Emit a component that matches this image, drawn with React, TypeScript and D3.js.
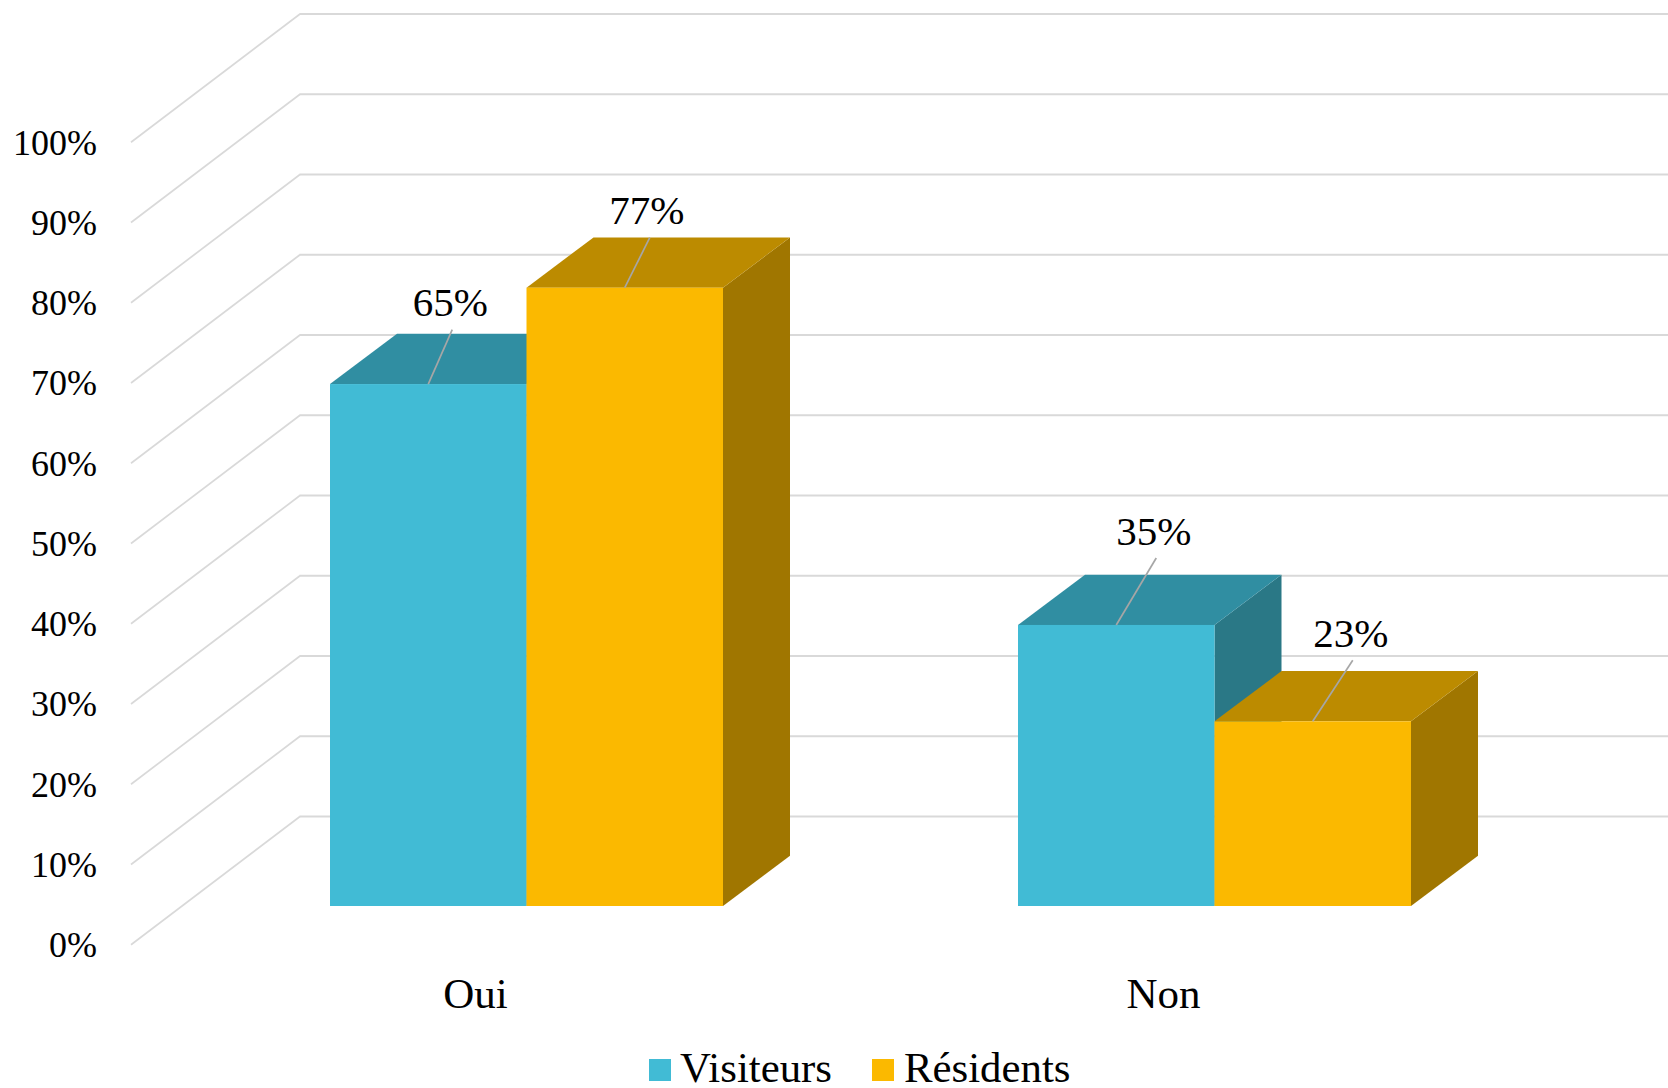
import React from "react";
import * as d3 from "d3";

const categories = ["Oui", "Non"];
const seriesNames = ["Visiteurs", "Résidents"];
const visiteurs = [65, 35];
const residents = [77, 23];
const yTicks = [0, 10, 20, 30, 40, 50, 60, 70, 80, 90, 100];

const WIDTH = 1668;
const HEIGHT = 1088;
const FONT = '"Liberation Serif", "Times New Roman", serif';

const palette = [
  { front: "#41BBD5", top: "#308EA2", side: "#2A7886" },
  { front: "#FBB900", top: "#BC8B00", side: "#A07600" },
];

// layout of the pseudo-3D plot
const depth = { x: 67, y: 50.3 };
const floorDepth = { x: 169, y: 128.2 };
const gridBack = d3.scaleLinear().domain([0, 100]).range([816.5, 14]);
const barFront = d3.scaleLinear().domain([0, 100]).range([906, 103]);
const x0 = d3.scaleBand().domain(categories).range([182.5, 1558.5]);
const x1 = d3.scaleBand().domain(seriesNames).range([147.5, 540.5]);

// data-label placement relative to each bar's top-front centre: [labelDx, baselineY-from-top, leaderDx, leaderDy]
const labelPlacement = [
  [
    [22, -68.5, 24, -54.5],
    [22, -63.5, 25, -50],
  ],
  [
    [37.5, -80, 40, -67],
    [38, -74, 40, -61],
  ],
];

const legendX = [
  { swatch: 649, text: 680 },
  { swatch: 872, text: 904 },
];

export default function App() {
  const values = [visiteurs, residents];
  const line = d3.line();
  const poly = (pts: [number, number][]) => line(pts) + "Z";
  return (
    <svg
      width={WIDTH}
      height={HEIGHT}
      viewBox={`0 0 ${WIDTH} ${HEIGHT}`}
      style={{ position: "absolute", left: 0, top: 0, display: "block", background: "#fff" }}
      fontFamily={FONT}
      fill="#000"
    >
      <g fill="none" stroke="#D9D9D9">
        {yTicks.map((t) => {
          const y = gridBack(t);
          return (
            <g key={t}>
              <path
                strokeWidth={1.7}
                d={line([
                  [300 - floorDepth.x, y + floorDepth.y],
                  [300, y],
                ]) as string}
              />
              <path
                strokeWidth={2.2}
                d={line([
                  [299.5, y],
                  [WIDTH, y],
                ]) as string}
              />
            </g>
          );
        })}
      </g>
      <g fontSize={36} textAnchor="end">
        {yTicks.map((t) => (
          <text key={t} x={97} y={gridBack(t) + 140.5}>
            {t}%
          </text>
        ))}
      </g>
      {categories.map((c, ci) => (
        <g key={c}>
          {seriesNames.map((s, si) => {
            const left = (x0(c) as number) + (x1(s) as number);
            const right = left + x1.bandwidth();
            const v = values[si][ci];
            const top = barFront(v);
            const bottom = barFront(0);
            const col = palette[si];
            return (
              <g key={s}>
                <path
                  fill={col.side}
                  d={poly([
                    [right, top],
                    [right + depth.x, top - depth.y],
                    [right + depth.x, bottom - depth.y],
                    [right, bottom],
                  ])}
                />
                <path
                  fill={col.top}
                  d={poly([
                    [left, top],
                    [left + depth.x, top - depth.y],
                    [right + depth.x, top - depth.y],
                    [right, top],
                  ])}
                />
                <rect x={left} y={top} width={right - left} height={bottom - top} fill={col.front} />
              </g>
            );
          })}
        </g>
      ))}
      {categories.map((c, ci) => (
        <g key={c}>
          {seriesNames.map((s, si) => {
            const cx = (x0(c) as number) + (x1(s) as number) + x1.bandwidth() / 2;
            const v = values[si][ci];
            const top = barFront(v);
            const [ldx, ldy, ex, ey] = labelPlacement[ci][si];
            return (
              <g key={s}>
                <path
                  stroke="#A6A6A6"
                  strokeWidth={1.7}
                  fill="none"
                  d={line([
                    [cx, top],
                    [cx + ex, top + ey],
                  ]) as string}
                />
                <text x={cx + ldx} y={top + ldy} fontSize={41} textAnchor="middle">
                  {v}%
                </text>
              </g>
            );
          })}
        </g>
      ))}
      <g fontSize={43} textAnchor="middle">
        {categories.map((c) => (
          <text key={c} x={(x0(c) as number) + x0.bandwidth() / 2 - 51} y={1008}>
            {c}
          </text>
        ))}
      </g>
      <g fontSize={42.8}>
        {seriesNames.map((s, i) => (
          <g key={s}>
            <rect x={legendX[i].swatch} y={1059} width={22} height={22} fill={palette[i].front} />
            <text x={legendX[i].text} y={1082}>
              {s}
            </text>
          </g>
        ))}
      </g>
    </svg>
  );
}
